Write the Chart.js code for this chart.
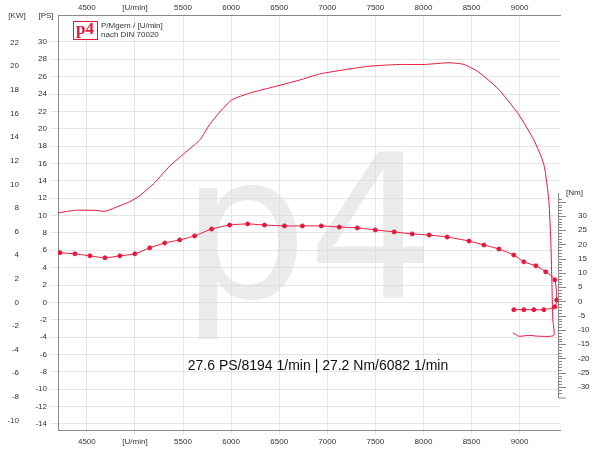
<!DOCTYPE html>
<html><head><meta charset="utf-8">
<script src="https://cdn.jsdelivr.net/npm/chart.js@4/dist/chart.umd.min.js"></script>
<style>html,body{margin:0;padding:0;background:#fff}#c{width:600px;height:450px}</style>
</head><body><div id="c"><canvas id="cv" width="600" height="450"></canvas></div>
<script>
const powerRpm=[4200,4376,4584,4688,4791,4947,5051,5206,5362,5517,5673,5777,5880,6005,6192,6399,6710,6918,7125,7436,7748,8007,8266,8422,8577,8785,8992,9148,9252,9303,9324,9335,9345,9355,9200,9096,8992,8930];
const powerPS=[10.3,10.6,10.6,10.5,10.9,11.6,12.3,13.8,15.7,17.2,18.7,20.5,21.9,23.3,24.1,24.7,25.6,26.3,26.7,27.2,27.4,27.4,27.6,27.4,26.5,24.5,21.6,18.7,15.9,11.8,7.2,2.6,-2.0,-3.8,-3.9,-3.8,-3.9,-3.5];
const torqueRpm=[4221,4376,4532,4688,4843,4999,5154,5310,5466,5621,5797,5984,6171,6347,6555,6741,6938,7125,7312,7499,7696,7883,8059,8246,8474,8629,8785,8940,9044,9169,9272,9366,9386,9366,9252,9148,9044,8940];
const torqueNm=[17.1,16.7,16.0,15.3,16.0,16.7,18.8,20.5,21.6,23.0,25.4,26.8,27.2,26.8,26.5,26.5,26.5,26.1,25.8,25.1,24.4,23.7,23.3,22.6,21.2,19.8,18.4,16.3,13.9,12.5,10.4,7.6,0.5,-1.9,-2.9,-2.9,-2.9,-2.9];
const summary="27.6 PS/8194 1/min | 27.2 Nm/6082 1/min";
const RED='#e8173a';
const psMin=-14.7, psMax=33.1, kw=0.7355;
const rpmLabel=v=>v===5000?'[U/min]':String(v);
const F={family:'Arial, "Liberation Sans"',size:8};
const deco={id:'deco',
 beforeDatasetsDraw(c){const x=c.ctx;x.save();
  x.font='200px "DejaVu Sans", Arial';x.fillStyle='rgba(215,215,215,0.5)';x.textAlign='center';x.textBaseline='middle';
  x.fillText('p4',308,245);x.restore();},
 afterDraw(c){const x=c.ctx;x.save();
  x.font='8px Arial, "Liberation Sans"';x.fillStyle='#333';x.textBaseline='middle';x.textAlign='center';
  x.fillText('[KW]',17,16);x.fillText('[PS]',46,16);
  x.fillStyle='#fff';x.fillRect(73,21,25,19);x.strokeStyle=RED;x.lineWidth=1;x.strokeRect(73.5,21.5,24,18);
  x.fillStyle=RED;x.font='bold 17px "Liberation Serif", serif';x.fillText('p4',85,30);
  x.fillStyle='#333';x.font='8px Arial, "Liberation Sans"';x.textAlign='left';
  x.fillText('P/Mgem / [U/min]',101,26);x.fillText('nach DIN 70020',101,35);
  x.font='14px Arial, "Liberation Sans"';x.fillStyle='#111';x.textAlign='center';
  x.fillText(summary,318,366);
  const s=c.scales.nm;const top=193,bot=398;
  x.strokeStyle='#888';x.beginPath();x.moveTo(558.5,top);x.lineTo(558.5,bot);x.lineTo(566,bot);x.stroke();
  x.fillStyle='#333';x.font='8px Arial';x.textAlign='left';x.fillText('[Nm]',566,193);
  for(let v=-34;v<=36;v++){const y=Math.round(s.getPixelForValue(v))+0.5;if(y<top+3||y>bot-2)continue;
   x.beginPath();x.moveTo(558,y);x.lineTo(v%5===0?566:562,y);x.stroke();}
  x.restore();}};
new Chart(document.getElementById('cv'),{type:'line',
 data:{datasets:[
  {data:powerRpm.map((r,i)=>({x:r,y:powerPS[i]})),yAxisID:'ps',borderColor:RED,borderWidth:1,pointRadius:0,tension:0.2},
  {data:torqueRpm.map((r,i)=>({x:r,y:torqueNm[i]})),yAxisID:'nm',borderColor:RED,borderWidth:1,pointRadius:2,pointBackgroundColor:RED,pointBorderColor:RED,tension:0.2}
 ]},
 plugins:[deco],
 options:{responsive:false,animation:false,events:[],layout:{padding:{top:4,right:0,bottom:0,left:0}},
  plugins:{legend:{display:false},tooltip:{enabled:false}},
  scales:{
   x:{type:'linear',position:'bottom',min:4200,max:9420,afterBuildTicks:s=>{s.ticks=[4500,5000,5500,6000,6500,7000,7500,8000,8500,9000].map(v=>({value:v}))},
     afterFit:s=>{s.height=20},ticks:{callback:rpmLabel,font:F,color:'#333',maxRotation:0},grid:{color:'#e6e6e6',tickLength:4},border:{color:'#888'}},
   x2:{type:'linear',position:'top',min:4200,max:9420,afterBuildTicks:s=>{s.ticks=[4500,5000,5500,6000,6500,7000,7500,8000,8500,9000].map(v=>({value:v}))},
     afterFit:s=>{s.height=11},ticks:{callback:rpmLabel,font:F,color:'#333',maxRotation:0,padding:2},grid:{display:false,drawTicks:false},border:{color:'#888'}},
   ps:{position:'left',min:psMin,max:psMax,afterBuildTicks:s=>{const t=[];for(let v=-14;v<=30;v+=2)t.push({value:v});s.ticks=t;},
     afterFit:s=>{s.width=28},ticks:{font:F,color:'#333'},grid:{color:'#e6e6e6'},border:{color:'#888'}},
   kw:{position:'left',min:psMin*kw,max:psMax*kw,afterBuildTicks:s=>{const t=[];for(let v=-10;v<=22;v+=2)t.push({value:v});s.ticks=t;},
     afterFit:s=>{s.width=30},ticks:{font:F,color:'#333'},grid:{display:false},border:{display:false}},
   nm:{position:'right',min:-45.1,max:100.5,afterBuildTicks:s=>{const t=[];for(let v=-30;v<=30;v+=5)t.push({value:v});s.ticks=t;},
     afterFit:s=>{s.width=40},ticks:{font:F,color:'#333',padding:10},grid:{display:false},border:{display:false}}
  }}});
</script></body></html>
